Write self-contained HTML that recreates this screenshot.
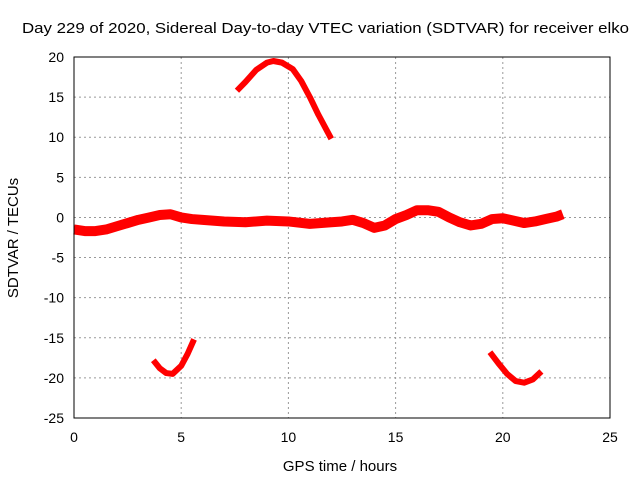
<!DOCTYPE html>
<html><head><meta charset="utf-8"><style>
body{margin:0;background:#fff}
svg{display:block;font-family:"Liberation Sans",sans-serif}
</style></head><body>
<svg id="chart" width="640" height="480">
<rect width="640" height="480" fill="#fff"/>
<text x="22" y="33" font-size="15" textLength="607" lengthAdjust="spacingAndGlyphs">Day 229 of 2020, Sidereal Day-to-day VTEC variation (SDTVAR) for receiver elko</text>
<text x="340" y="471" font-size="15" text-anchor="middle">GPS time / hours</text>
<text x="18" y="238" font-size="15" text-anchor="middle" transform="rotate(-90 18 238)">SDTVAR / TECUs</text>
<g id="grid"></g><g id="axes"></g><g id="series"></g>
<rect x="74" y="57" width="536" height="361" fill="none" stroke="#000" stroke-width="1"/>
</svg>
<script>
const xTicks=[0,5,10,15,20,25];
const yTicks=[20,15,10,5,0,-5,-10,-15,-20,-25];
const topArcX=[7.6,8.0,8.5,9.0,9.3,9.7,10.2,10.6,11.0,11.4,11.8,12.0];
const topArcY=[15.8,16.9,18.4,19.3,19.5,19.3,18.5,17.0,15.0,12.8,10.8,9.8];
const bandX=[0,0.5,1,1.5,2,2.5,3,3.5,4,4.5,5,5.5,6,7,8,9,10,11,12,12.5,13,13.5,14,14.5,15,15.5,16,16.5,17,17.5,18,18.5,19,19.5,20,20.5,21,21.5,22,22.5,22.8];
const bandY=[-1.5,-1.7,-1.7,-1.5,-1.1,-0.7,-0.3,0,0.3,0.4,0,-0.2,-0.3,-0.5,-0.6,-0.4,-0.5,-0.8,-0.6,-0.5,-0.3,-0.7,-1.3,-1.0,-0.2,0.3,0.9,0.9,0.7,0,-0.6,-1.0,-0.8,-0.2,-0.1,-0.4,-0.7,-0.5,-0.2,0.1,0.4];
const botLeftX=[3.7,4.0,4.3,4.6,5.0,5.3,5.6];
const botLeftY=[-17.8,-18.8,-19.4,-19.5,-18.5,-17.0,-15.2];
const botRightX=[19.4,19.8,20.2,20.6,21.0,21.4,21.8];
const botRightY=[-16.8,-18.2,-19.5,-20.4,-20.6,-20.2,-19.2];
const X0=74,X1=610,Y0=418,Y1=57;
const xs=v=>X0+(v-0)/(25-0)*(X1-X0);
const ys=v=>Y0-(v+25)/(45)*(Y0-Y1);
const NS='http://www.w3.org/2000/svg';
const grid=document.getElementById('grid'),axes=document.getElementById('axes'),ser=document.getElementById('series');
xTicks.forEach(t=>{const x=xs(t);
 if(t>0&&t<25){const l=document.createElementNS(NS,'line');l.setAttribute('x1',x);l.setAttribute('x2',x);l.setAttribute('y1',Y1);l.setAttribute('y2',Y0);l.setAttribute('stroke','#999');l.setAttribute('stroke-dasharray','2,3');
 
 grid.appendChild(l);}
 const tx=document.createElementNS(NS,'text');tx.setAttribute('x',x);tx.setAttribute('y',Y0+24);tx.setAttribute('font-size','14');tx.setAttribute('text-anchor','middle');tx.textContent=t;
 
 axes.appendChild(tx);});
yTicks.forEach(t=>{const y=ys(t);
 if(t>-25&&t<20){const l=document.createElementNS(NS,'line');l.setAttribute('x1',X0);l.setAttribute('x2',X1);l.setAttribute('y1',y);l.setAttribute('y2',y);l.setAttribute('stroke','#999');l.setAttribute('stroke-dasharray','2,3');
 
 grid.appendChild(l);}
 const tx=document.createElementNS(NS,'text');tx.setAttribute('x',X0-10);tx.setAttribute('y',y+5);tx.setAttribute('font-size','14');tx.setAttribute('text-anchor','end');tx.textContent=t;
 
 axes.appendChild(tx);});
function draw(X,Y,w,name){const p=document.createElementNS(NS,'polyline');
 p.setAttribute('points',X.map((x,i)=>xs(x)+','+ys(Y[i])).join(' '));
 p.setAttribute('fill','none');p.setAttribute('stroke','#f00');p.setAttribute('stroke-width',w);p.setAttribute('stroke-linejoin','round');p.setAttribute('stroke-linecap','butt');
 
 ser.appendChild(p);}
draw(topArcX,topArcY,6,'series-top-arc');
draw(bandX,bandY,10,'series-main-band');
draw(botLeftX,botLeftY,6,'series-bottom-left-arc');
draw(botRightX,botRightY,6,'series-bottom-right-arc');
</script>
</body></html>
